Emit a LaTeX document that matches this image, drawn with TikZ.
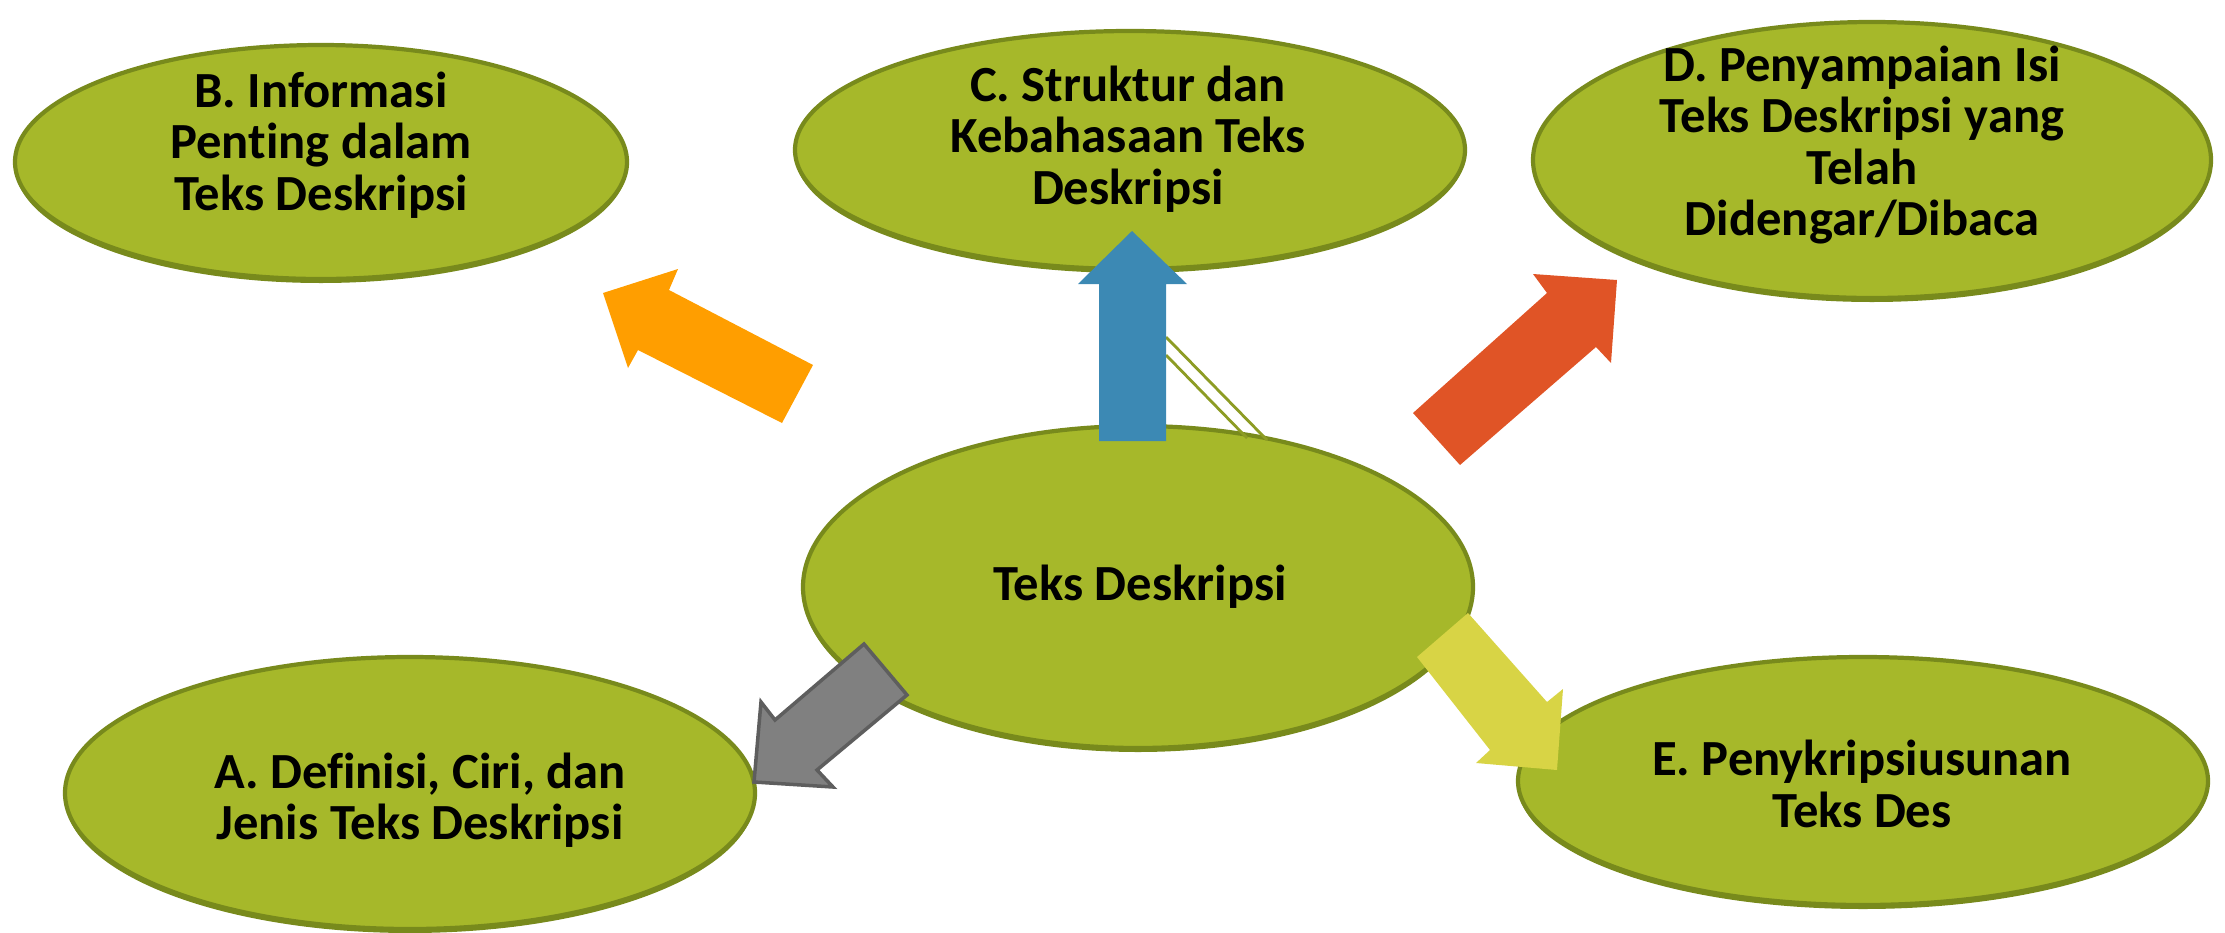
\documentclass[tikz,border=0pt]{standalone}
\usepackage{fontspec}
\setmainfont[Ligatures=NoCommon]{Carlito}
\usetikzlibrary{shapes.geometric,shadows}
\definecolor{bubblefill}{HTML}{A6B82A}
\definecolor{bubbleedge}{HTML}{788A1C}
\definecolor{arrorange}{HTML}{FF9E00}
\definecolor{arrblue}{HTML}{3C89B4}
\definecolor{arrred}{HTML}{E05426}
\definecolor{arrgray}{HTML}{808080}
\definecolor{arrgrayedge}{HTML}{5E5E5E}
\definecolor{arryellow}{HTML}{D8D445}
\begin{document}
\begin{tikzpicture}[
    bubble/.style={ellipse, draw=bubbleedge, fill=bubblefill, line width=1.2pt, inner sep=0pt,
        general shadow={shadow yshift=-0.04cm, fill=bubbleedge}},
    bubbletext/.style={align=center, font=\bfseries\fontsize{14.4}{14.6}\selectfont},
    blockarrow/.style={line join=miter}
]
            \useasboundingbox (0,0) rectangle (22.25,-9.32);

            \node(desk) at (11.38,-5.87) [bubble, minimum width=6.70cm, minimum height=3.22cm] {};
            \node(info) at (3.21,-1.62) [bubble, minimum width=6.12cm, minimum height=2.34cm] {};
            \node(struk) at (11.30,-1.50) [bubble, minimum width=6.70cm, minimum height=2.38cm] {};
            \node(penyamp) at (18.72,-1.60) [bubble, minimum width=6.78cm, minimum height=2.76cm] {};
            \node(defin) at (4.10,-7.93) [bubble, minimum width=6.90cm, minimum height=2.72cm] {};
            \node(penyus) at (18.63,-7.81) [bubble, minimum width=6.90cm, minimum height=2.48cm] {};

            \node(desk_txt) at (11.40,-5.87) [bubbletext] {Teks Deskripsi};
            \node(info_txt) at (3.21,-1.45) [bubbletext] {B. Informasi\\Penting dalam\\Teks Deskripsi};
            \node(struk_txt) at (11.28,-1.39) [bubbletext] {C. Struktur dan\\Kebahasaan Teks\\Deskripsi};
            \node(penyamp_txt) at (18.62,-1.45) [bubbletext] {D. Penyampaian Isi\\Teks Deskripsi yang\\Telah\\Didengar/Dibaca};
            \node(defin_txt) at (4.20,-8.00) [bubbletext] {A. Definisi, Ciri, dan\\Jenis Teks Deskripsi};
            \node(penyus_txt) at (18.62,-7.84) [bubbletext] {E. Penykripsiusunan\\Teks Des};

            \draw[bubblefill!85!black, line width=0.8pt] (11.66,-3.37) -- (12.67,-4.40);
            \draw[bubblefill!85!black, line width=0.8pt] (11.66,-3.55) -- (12.47,-4.38);

            \fill[blockarrow, arrorange] (6.03,-2.93) -- (6.78,-2.69) -- (6.69,-2.90) -- (8.13,-3.65)
                -- (7.82,-4.23) -- (6.38,-3.50) -- (6.28,-3.68) -- cycle;
            \fill[blockarrow, arrblue] (11.32,-2.31) -- (11.87,-2.84) -- (11.66,-2.84) -- (11.66,-4.41)
                -- (10.99,-4.41) -- (10.99,-2.84) -- (10.78,-2.84) -- cycle;
            \fill[blockarrow, arrred] (16.17,-2.80) -- (16.11,-3.63) -- (15.96,-3.47) -- (14.60,-4.65)
                -- (14.13,-4.13) -- (15.47,-2.93) -- (15.33,-2.74) -- cycle;
            \filldraw[blockarrow, fill=arrgray, draw=arrgrayedge, line width=1pt] (7.54,-7.82) -- (8.33,-7.87)
                -- (8.17,-7.70) -- (9.07,-6.95) -- (8.64,-6.44) -- (7.75,-7.20) -- (7.61,-7.02) -- cycle;
            \fill[blockarrow, arryellow] (15.57,-7.70) -- (14.76,-7.63) -- (14.90,-7.50) -- (14.17,-6.57)
                -- (14.68,-6.13) -- (15.47,-7.02) -- (15.63,-6.89) -- cycle;
\end{tikzpicture}
\end{document}
